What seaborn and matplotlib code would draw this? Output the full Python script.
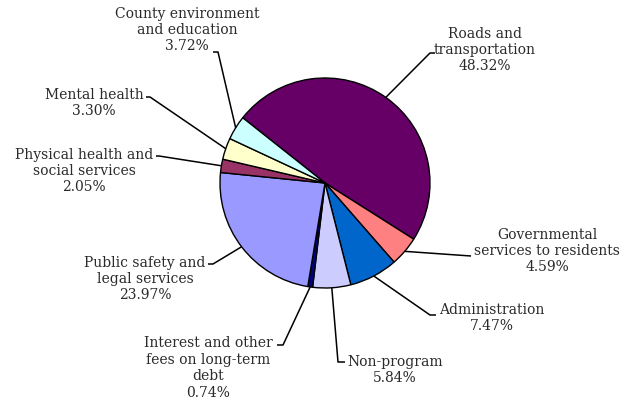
import numpy as np
import matplotlib
matplotlib.use("Agg")
import matplotlib.pyplot as plt
import seaborn as sns

# === DATA ===
CATEGORIES = ['Roads and\ntransportation', 'Governmental\nservices to residents',
              'Administration', 'Non-program',
              'Interest and other\nfees on long-term\ndebt',
              'Public safety and\nlegal services', 'Physical health and\nsocial services',
              'Mental health', 'County environment\nand education']
SHARES = [48.32, 4.59, 7.47, 5.84, 0.74, 23.97, 2.05, 3.30, 3.72]
COLORS = ['#660066', '#FF8080', '#0066CC', '#CCCCFF', '#000080',
          '#9999FF', '#993366', '#FFFFCC', '#CCFFFF']

# === LAYOUT (pixel coords, y measured from top) ===
W, H = 631, 401
CENTER = (325, 183)
RADIUS = 105
# text block centre, leader-line elbow points
LABELS = [
    ((485, 50), [(430, 53), (435, 53)]),
    ((547, 251), [(471, 256)]),
    ((492, 318), [(430, 315), (436, 315)]),
    ((395, 370), [(338, 362), (345, 362)]),
    ((208, 368), [(283, 345), (277, 345)]),
    ((145, 279), [(213, 264), (208, 264)]),
    ((84, 171), [(159, 156), (156, 156)]),
    ((94, 103), [(150, 97), (146, 97)]),
    ((187, 30), [(218, 52), (213, 52)]),
]

sns.set_theme(style="white")
plt.rcParams['font.family'] = ['DejaVu Serif']

fig = plt.figure(figsize=(W / 100, H / 100), dpi=100)
ax = fig.add_axes([0, 0, 1, 1])

fy = lambda y: H - y

wedges, _ = ax.pie(SHARES, colors=COLORS, startangle=141.6, counterclock=False,
                   center=(CENTER[0], fy(CENTER[1])), radius=RADIUS,
                   wedgeprops=dict(edgecolor='black', linewidth=1.0))
ax.set_xlim(0, W)
ax.set_ylim(0, H)
ax.set_aspect('equal')
ax.axis('off')

for w, name, val, (txt_pos, elbows) in zip(wedges, CATEGORIES, SHARES, LABELS):
    mid = np.deg2rad((w.theta1 + w.theta2) / 2)
    ax0 = CENTER[0] + RADIUS * np.cos(mid)
    ay0 = fy(CENTER[1]) + RADIUS * np.sin(mid)
    xs = [ax0] + [p[0] for p in elbows]
    ys = [ay0] + [fy(p[1]) for p in elbows]
    ax.plot(xs, ys, color='black', lw=1.1, solid_capstyle='butt')
    ax.text(txt_pos[0], fy(txt_pos[1]), f'{name}\n{val:.2f}%', ha='center', va='center',
            multialignment='center', fontsize=10.0, linespacing=1.22, color='#2a2a2a')

fig.savefig('out.png', dpi=100)
